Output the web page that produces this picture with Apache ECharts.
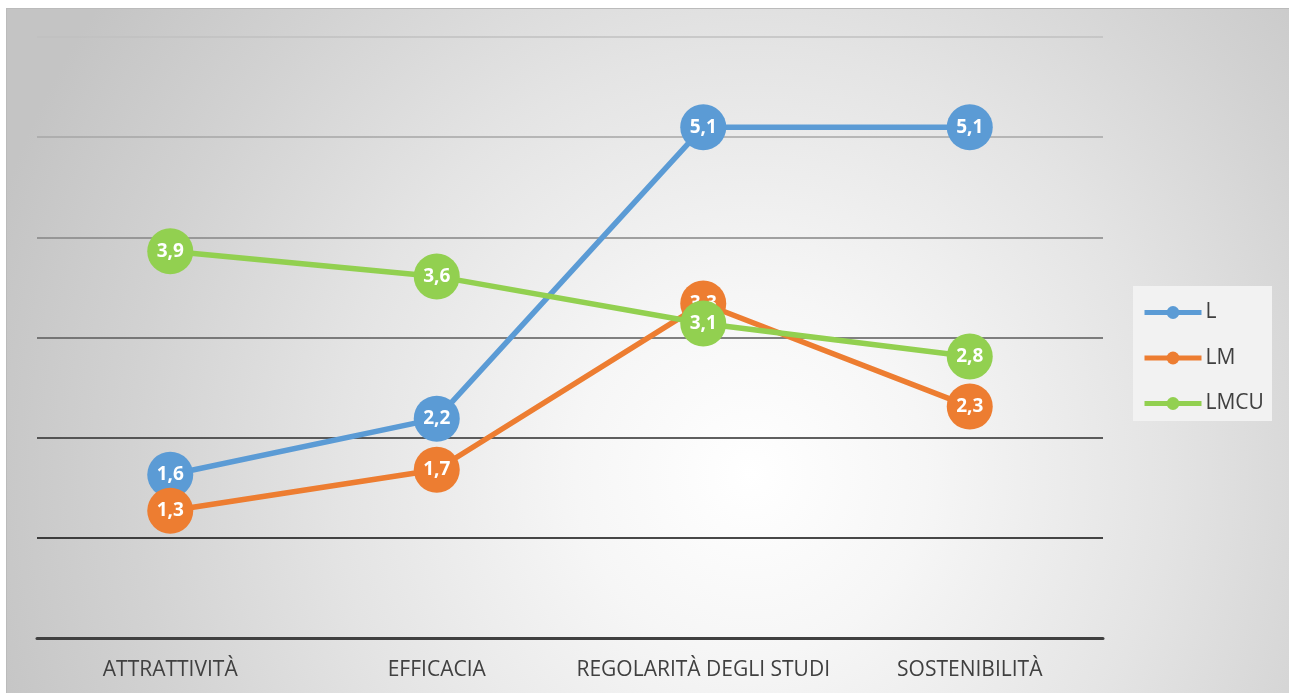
<!DOCTYPE html>
<html>
<head>
<meta charset="utf-8">
<script src="https://cdn.jsdelivr.net/npm/echarts@6/dist/echarts.min.js"></script>
<style>
html,body{margin:0;padding:0;background:#ffffff;width:1289px;height:695px;overflow:hidden;}
#bg{position:absolute;left:6px;top:8px;width:1283px;height:685px;
background:radial-gradient(ellipse 62% 120% at 58% 68%, #ffffff 0%, #f6f6f6 22%, #e4e4e4 52%, #d2d2d2 78%, #c4c4c4 100%);
border-top:1px solid #bbbbbb;border-left:1px solid #bbbbbb;box-sizing:border-box;}
#chart{position:absolute;left:0;top:0;width:1289px;height:695px;}
</style>
</head>
<body>
<div id="bg"></div>
<div id="chart"></div>
<script>
const categories = ['ATTRATTIVITÀ', 'EFFICACIA', 'REGOLARITÀ DEGLI STUDI', 'SOSTENIBILITÀ'];
const seriesNames = ['L', 'LM', 'LMCU'];
const valuesL = [1.63, 2.19, 5.1, 5.1];
const valuesLM = [1.27, 1.68, 3.34, 2.31];
const valuesLMCU = [3.86, 3.61, 3.14, 2.81];
const colors = ['#5B9BD5', '#ED7D31', '#92D050'];

const chart = echarts.init(document.getElementById('chart'), null, {renderer: 'canvas'});
const font = '"Open Sans", Lato, sans-serif';
function mk(name, data, color, z) {
  return {
    name: name, type: 'line', data: data, z: z,
    symbol: 'circle', symbolSize: 46,
    lineStyle: {color: color, width: 5.5},
    itemStyle: {color: color},
    label: {
      show: true, position: 'inside', color: '#ffffff', fontWeight: 'bold',
      fontSize: 19, fontFamily: font,
      formatter: p => p.value.toFixed(1).replace('.', ',')
    },
    emphasis: {disabled: true}
  };
}
chart.setOption({
  animation: false,
  backgroundColor: 'transparent',
  graphic: [{
    type: 'rect', left: 1133, top: 286, z: -1,
    shape: {width: 139, height: 135},
    style: {fill: '#f2f2f2'}
  }],
  grid: {left: 37, right: 186, top: 37, bottom: 57},
  legend: {
    orient: 'vertical', left: 1137, top: 297,
    itemWidth: 57, itemHeight: 16, itemGap: 24.5,
    lineStyle: {width: 5},
    textStyle: {color: '#404040', fontSize: 21, fontFamily: font, padding: [0,0,0,-1]},
    data: seriesNames
  },
  xAxis: {
    type: 'category', data: categories, boundaryGap: true,
    axisLine: {lineStyle: {color: '#404040', width: 3}},
    axisTick: {show: false},
    axisLabel: {color: '#404040', fontSize: 21, fontFamily: font, margin: 22, interval: 0}
  },
  yAxis: {
    type: 'value', min: 0, max: 6, interval: 1,
    axisLabel: {show: false}, axisLine: {show: false}, axisTick: {show: false},
    splitLine: {lineStyle: {width: 1.5, color: ['#404040', '#0d0d0d', '#2b2b2b', '#595959', '#858585', '#a6a6a6', '#c0c0c0']}}
  },
  series: [
    mk(seriesNames[0], valuesL, colors[0], 2),
    mk(seriesNames[1], valuesLM, colors[1], 3),
    mk(seriesNames[2], valuesLMCU, colors[2], 4)
  ]
});
</script>
</body>
</html>
